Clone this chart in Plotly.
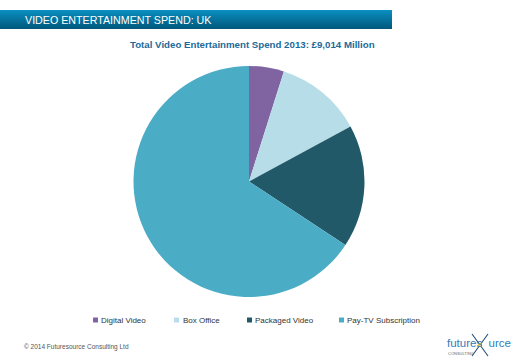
import plotly.graph_objects as go

categories = ["Digital Video", "Box Office", "Packaged Video", "Pay-TV Subscription"]
values = [440, 1100, 1550, 5924]
colors = ["#8064A2", "#B7DEE8", "#215968", "#4BACC6"]

W, H = 520, 360

def px(x):
    return x / W

def py(y):
    return 1 - y / H

fig = go.Figure()
fig.add_trace(go.Pie(
    labels=categories, values=values, sort=False, direction="clockwise", rotation=0,
    marker=dict(colors=colors, line=dict(width=0)), textinfo="none", hoverinfo="label+value",
    showlegend=False,
    domain=dict(x=[px(249 - 115.5), px(249 + 115.5)], y=[py(297), py(66)]),
))

shapes = []
# header gradient bar
top, bot = 10, 29
c0 = (0x0A, 0x8E, 0xC0)
c1 = (0x00, 0x58, 0x7C)
n = 19
for i in range(n):
    t = i / (n - 1)
    c = tuple(round(a + (b - a) * t) for a, b in zip(c0, c1))
    y0 = top + (bot - top) * i / n
    y1 = top + (bot - top) * (i + 1) / n + 0.6
    y1 = min(y1, bot)
    shapes.append(dict(type="rect", xref="paper", yref="paper", x0=0, x1=px(392),
                       y0=py(y1), y1=py(y0), fillcolor="rgb(%d,%d,%d)" % c, line=dict(width=0),
                       layer="below"))

annotations = [
    dict(text="VIDEO ENTERTAINMENT SPEND: UK", x=px(23), y=py(19.5), xanchor="left", yanchor="middle",
         showarrow=False, font=dict(family="Liberation Sans", size=10.7, color="white")),
    dict(text="<b>Total Video Entertainment Spend 2013: £9,014 Million</b>", x=px(252), y=py(44),
         xanchor="center", yanchor="middle", showarrow=False,
         font=dict(family="Liberation Sans", size=9.7, color="#1B6A9A")),
    dict(text="© 2014 Futuresource Consulting Ltd", x=px(22), y=py(347), xanchor="left", yanchor="middle",
         showarrow=False, font=dict(family="Liberation Sans", size=6.5, color="#555555")),
    dict(text="futures<span style='color:rgba(0,0,0,0)'>o</span>urce", x=px(445), y=py(343),
         xanchor="left", yanchor="middle",
         showarrow=False, font=dict(family="Liberation Sans", size=11.5, color="#2F7DB8")),
    dict(text="CONSULTING", x=px(446), y=py(353), xanchor="left", yanchor="middle",
         showarrow=False, font=dict(family="Liberation Sans", size=4, color="#666666")),
]

# legend
leg_sq = [93, 174, 247, 339]
leg_tx = [99, 181, 253, 345]
ly = 320
for i, cat in enumerate(categories):
    shapes.append(dict(type="rect", xref="paper", yref="paper", x0=px(leg_sq[i]), x1=px(leg_sq[i] + 5),
                       y0=py(ly + 2.5), y1=py(ly - 2.5), fillcolor=colors[i], line=dict(width=0)))
    annotations.append(dict(text=cat, x=px(leg_tx[i]), y=py(ly), xanchor="left", yanchor="middle",
                            showarrow=False, font=dict(family="Liberation Sans", size=8, color="#333333")))

# logo X mark
xc, yc = 480, 345
shapes.append(dict(type="line", xref="paper", yref="paper", x0=px(xc - 8), y0=py(yc - 11), x1=px(xc + 8),
                   y1=py(yc + 11), line=dict(color="#1F4E79", width=1.1)))
shapes.append(dict(type="line", xref="paper", yref="paper", x0=px(xc + 8), y0=py(yc - 11), x1=px(xc - 8),
                   y1=py(yc + 11), line=dict(color="#1F4E79", width=1.1)))
shapes.append(dict(type="circle", xref="paper", yref="paper", x0=px(xc - 2), y0=py(yc + 2), x1=px(xc + 2),
                   y1=py(yc - 2), fillcolor="#F2C230", line=dict(width=0)))

fig.update_layout(
    width=W, height=H, margin=dict(l=0, r=0, t=0, b=0),
    paper_bgcolor="white", plot_bgcolor="white",
    shapes=shapes, annotations=annotations,
)

fig.write_html("out.html", config={"displayModeBar": False},
               post_script="document.body.style.margin='0';")
